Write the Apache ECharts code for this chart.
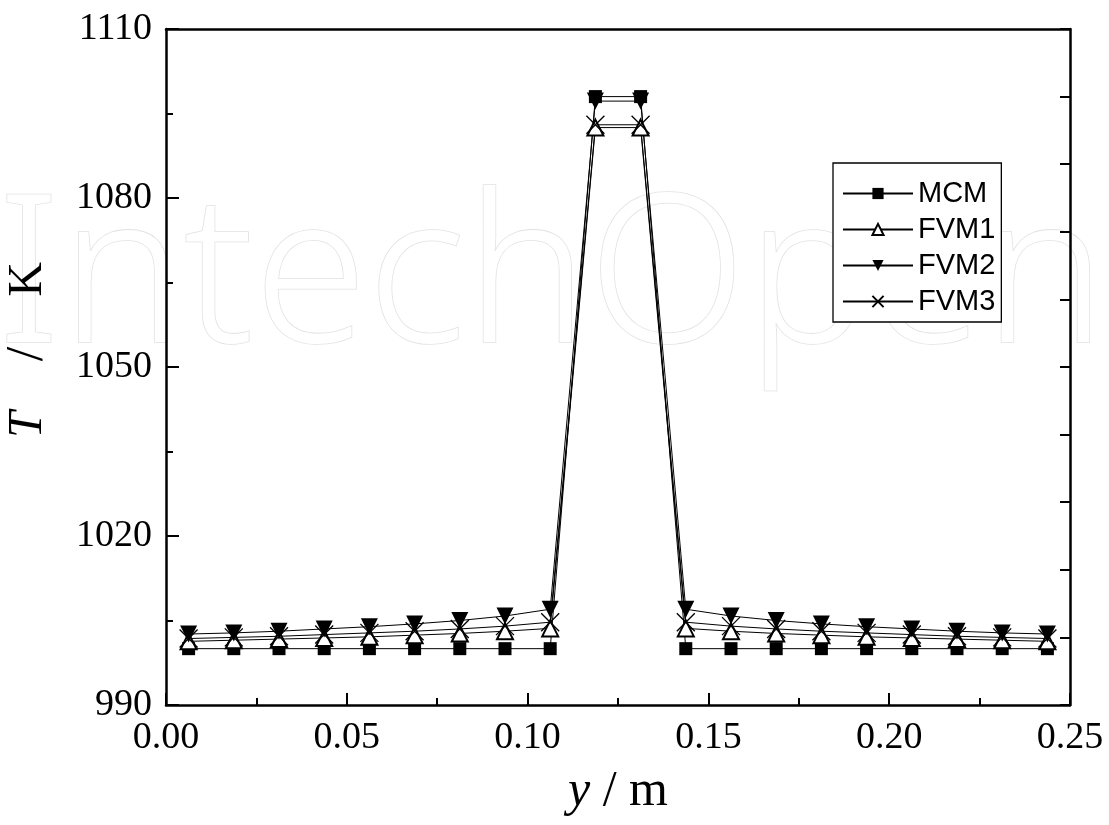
<!DOCTYPE html>
<html>
<head>
<meta charset="utf-8">
<title>T / K along y</title>
<script src="https://cdn.jsdelivr.net/npm/echarts@6/dist/echarts.min.js"></script>
<style>
    html, body { margin: 0; padding: 0; background: #fff; }
    #myChart { width: 1109px; height: 825px; }
</style>
</head>
<body>
<div id="myChart"></div>
<script>
    // cell centres along the channel (m)
    const yPos = [0.00625, 0.01875, 0.03125, 0.04375, 0.05625, 0.06875, 0.08125, 0.09375, 0.10625, 0.11875,
        0.13125, 0.14375, 0.15625, 0.16875, 0.18125, 0.19375, 0.20625, 0.21875, 0.23125, 0.24375];

    // temperature (K) per method
    const mcm = [1000, 1000, 1000, 1000, 1000, 1000, 1000, 1000, 1000, 1098,
        1098, 1000, 1000, 1000, 1000, 1000, 1000, 1000, 1000, 1000];
    const fvm1 = [1001.3, 1001.5, 1001.7, 1001.9, 1002.1, 1002.4, 1002.7, 1003.1, 1003.6, 1092.5,
        1092.5, 1003.6, 1003.1, 1002.7, 1002.4, 1002.1, 1001.9, 1001.7, 1001.5, 1001.3];
    const fvm2 = [1002.6, 1002.8, 1003.1, 1003.5, 1003.9, 1004.4, 1005.0, 1005.8, 1007.0, 1097.2,
        1097.2, 1007.0, 1005.8, 1005.0, 1004.4, 1003.9, 1003.5, 1003.1, 1002.8, 1002.6];
    const fvm3 = [1001.8, 1002.0, 1002.2, 1002.5, 1002.8, 1003.1, 1003.5, 1004.0, 1004.7, 1093.0,
        1093.0, 1004.7, 1004.0, 1003.5, 1003.1, 1002.8, 1002.5, 1002.2, 1002.0, 1001.8];

    const serif = '"Liberation Serif", "Times New Roman", serif';

    function pairs(vals) {
        return yPos.map((x, i) => [x, vals[i]]);
    }

    const myChart = echarts.init(document.getElementById('myChart'), null, {renderer: 'canvas'});

    const lineStyle = {color: '#000', width: 1};

    const option = {
        animation: false,
        backgroundColor: '#fff',
        graphic: {
            elements: [{
                type: 'text',
                left: -4,
                top: 180,
                z: -10,
                silent: true,
                style: {
                    text: 'IntechOpen',
                    font: '300 206px "Noto Sans", sans-serif',
                    fill: '#fff',
                    stroke: '#e2e2e2',
                    lineWidth: 1.6
                }
            }]
        },
        grid: {left: 166, right: 39, top: 29, bottom: 120, outerBoundsMode: 'none'},
        legend: {
            orient: 'vertical',
            left: 833,
            top: 163,
            padding: [16, 6, 6, 9],
            itemWidth: 70,
            itemHeight: 14,
            itemGap: 7,
            backgroundColor: '#fff',
            borderColor: '#000',
            borderWidth: 1.3,
            textStyle: {fontFamily: '"Liberation Sans", Arial, sans-serif', fontSize: 29, color: '#000', lineHeight: 29},
            data: ['MCM', 'FVM1', 'FVM2', 'FVM3']
        },
        xAxis: [{
            type: 'value',
            min: 0,
            max: 0.25,
            interval: 0.05,
            name: '{i|y} / m',
            nameLocation: 'middle',
            nameGap: 62,
            nameTextStyle: {
                fontFamily: serif, fontSize: 50, color: '#000',
                rich: {i: {fontFamily: serif, fontSize: 50, fontStyle: 'italic', color: '#000'}}
            },
            axisLine: {lineStyle: {color: '#000', width: 2.5}},
            axisTick: {inside: true, length: 12, lineStyle: {color: '#000', width: 2}},
            minorTick: {show: true, splitNumber: 2, length: 7, lineStyle: {color: '#000', width: 2}},
            axisLabel: {
                margin: 14, fontFamily: serif, fontSize: 38, color: '#000',
                formatter: v => v.toFixed(2)
            },
            splitLine: {show: false}
        }, {
            type: 'value',
            position: 'top',
            min: 0,
            max: 0.25,
            axisLine: {lineStyle: {color: '#000', width: 2.5}},
            axisTick: {show: false},
            axisLabel: {show: false},
            splitLine: {show: false}
        }],
        yAxis: [{
            type: 'value',
            min: 990,
            max: 1110,
            interval: 30,
            name: '{i|T}{s|/}K',
            nameLocation: 'middle',
            nameGap: 112,
            nameTextStyle: {
                fontFamily: serif, fontSize: 48, color: '#000',
                rich: {
                    i: {fontFamily: serif, fontSize: 48, fontStyle: 'italic', color: '#000', padding: [0, 0, 0, 34]},
                    s: {fontFamily: serif, fontSize: 52, color: '#000', padding: [0, 50, 0, 50]}
                }
            },
            axisLine: {lineStyle: {color: '#000', width: 2.5}},
            axisTick: {inside: true, length: 13, lineStyle: {color: '#000', width: 2}},
            minorTick: {show: true, splitNumber: 2, length: 7, lineStyle: {color: '#000', width: 2}},
            axisLabel: {margin: 14, fontFamily: serif, fontSize: 38, color: '#000', formatter: v => String(v)},
            splitLine: {show: false}
        }, {
            // right frame: its own tick spacing of 12 K counted from 990
            type: 'value',
            position: 'right',
            min: 990,
            max: 1110,
            interval: 12,
            axisLine: {show: true, onZero: false, lineStyle: {color: '#000', width: 2.5}},
            axisTick: {show: true, inside: true, length: 10, lineStyle: {color: '#000', width: 2}},
            axisLabel: {show: true, formatter: () => ''},
            splitLine: {show: false}
        }],
        series: [
            {
                name: 'MCM',
                type: 'line',
                data: pairs(mcm),
                symbol: 'rect',
                symbolSize: 13,
                lineStyle: lineStyle,
                itemStyle: {color: '#000'},
                emphasis: {disabled: true}
            },
            {
                name: 'FVM1',
                type: 'line',
                data: pairs(fvm1),
                symbol: 'emptyTriangle',
                symbolSize: 16,
                lineStyle: lineStyle,
                itemStyle: {color: '#000', borderColor: '#000', borderWidth: 1.2},
                emphasis: {disabled: true}
            },
            {
                name: 'FVM2',
                type: 'line',
                data: pairs(fvm2),
                symbol: 'triangle',
                symbolRotate: 180,
                symbolSize: 17,
                lineStyle: lineStyle,
                itemStyle: {color: '#000'},
                emphasis: {disabled: true}
            },
            {
                name: 'FVM3',
                type: 'line',
                data: pairs(fvm3),
                symbol: 'path://M0,0L10,10M10,0L0,10',
                symbolSize: 18,
                lineStyle: lineStyle,
                itemStyle: {color: '#000', borderColor: '#000', borderWidth: 1.3},
                emphasis: {disabled: true}
            }
        ]
    };

    myChart.setOption(option);
</script>
</body>
</html>
